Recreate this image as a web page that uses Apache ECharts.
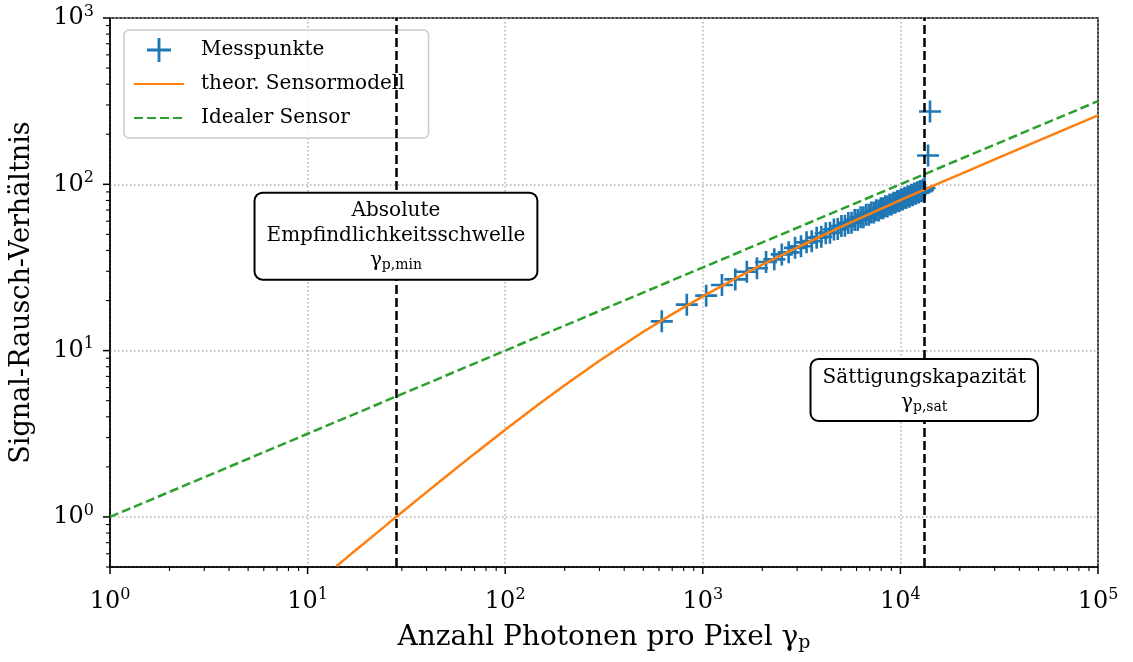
<!DOCTYPE html>
<html><head><meta charset="utf-8">
<script src="https://cdn.jsdelivr.net/npm/echarts@6/dist/echarts.min.js"></script>
<style>html,body{margin:0;padding:0;background:#fff}#c{width:1133px;height:662px}</style>
</head><body><div id="c"></div>
<script>
// Measured points (Messpunkte)
const measX = [620, 830, 1040, 1250, 1460, 1670, 1880, 2090, 2300, 2510, 2720, 2930, 3140, 3350, 3560, 3770, 3980, 4190, 4400, 4610, 4820, 5030, 5240, 5450, 5660, 5870, 6080, 6290, 6500, 6710, 6920, 7130, 7340, 7550, 7760, 7970, 8180, 8390, 8600, 8810, 9020, 9230, 9440, 9650, 9860, 10070, 10280, 10490, 10700, 10910, 11120, 11330, 11540, 11750, 11960, 12170, 12380, 12590, 12800, 13010, 13250, 13800, 14120];
const measY = [15.0, 18.9, 21.4, 24.8, 26.8, 29.8, 31.3, 34.1, 35.4, 37.9, 39.0, 41.5, 42.4, 44.8, 45.5, 47.8, 48.4, 50.8, 51.2, 53.5, 53.9, 56.1, 56.4, 58.6, 58.8, 61.0, 61.1, 63.3, 63.4, 65.5, 65.6, 67.7, 67.7, 69.8, 69.7, 71.8, 71.7, 73.8, 73.6, 75.7, 75.5, 77.6, 77.4, 79.4, 79.2, 81.2, 80.9, 83.0, 82.6, 84.7, 84.3, 86.4, 86.0, 88.0, 87.6, 89.6, 89.2, 91.2, 90.8, 92.6, 95.0, 149, 274];
// Theoretical sensor model curve
const modelX = [14, 16, 18, 20, 25, 28, 30, 40, 50, 70, 100, 150, 200, 300, 500, 700, 1000, 1500, 2000, 3000, 5000, 7000, 10000, 15000, 20000, 30000, 50000, 70000, 100000];
const modelY = [0.5055, 0.577, 0.648, 0.718, 0.893, 0.998, 1.067, 1.41, 1.746, 2.402, 3.345, 4.822, 6.197, 8.699, 12.98, 16.59, 21.21, 27.56, 32.88, 41.69, 55.45, 66.48, 80.28, 99.11, 114.9, 141.3, 183.1, 216.9, 259.5];
// Ideal sensor
const idealX = [1, 100000];
const idealY = [1, 316.2];
// Characteristic values
const gammaMin = 28;
const gammaSat = 13200;
// Tick values
const xMajor = [1, 10, 100, 1000, 10000, 100000];
const yMajor = [1, 10, 100, 1000];
const minorMult = [2, 3, 4, 5, 6, 7, 8, 9];
const xDecades = [1, 10, 100, 1000, 10000];
const yDecades = [0.1, 1, 10, 100];

const xMinor = [];
xDecades.forEach(d => minorMult.forEach(m => xMinor.push(d * m)));
const yMinor = [];
yDecades.forEach(d => minorMult.forEach(m => { const v = +(d * m).toPrecision(6); if (v >= 0.5) yMinor.push(v); }));

const FONT = 'DejaVu Serif';
const Y_MIN = 0.5, Y_MAX = 1000, X_MIN = 1, X_MAX = 100000;

function fmt(v) {
  const e = Math.log10(v);
  if (Math.abs(e - Math.round(e)) > 1e-6) return '';
  return '{b|10}{s|' + Math.round(e) + '}';
}
const tickRich = {
  b: { fontFamily: FONT, fontSize: 24, color: '#000' },
  s: { fontFamily: FONT, fontSize: 16, color: '#000', padding: [0, 0, 13, 0] }
};

function tickSeries(vals, axis, len, lw) {
  return {
    type: 'custom', silent: true, clip: false, z: 10,
    data: vals.map(v => axis === 'x' ? [v, Y_MIN] : [X_MIN, v]),
    renderItem: (params, api) => {
      const p = api.coord([api.value(0), api.value(1)]);
      const shape = axis === 'x'
        ? { x1: p[0], y1: p[1], x2: p[0], y2: p[1] + len }
        : { x1: p[0] - len, y1: p[1], x2: p[0], y2: p[1] };
      return { type: 'line', shape: shape, style: { stroke: '#000', lineWidth: lw } };
    }
  };
}

const plusPath = 'path://M-1.2,-10 L1.2,-10 L1.2,-1.2 L10,-1.2 L10,1.2 L1.2,1.2 L1.2,10 L-1.2,10 L-1.2,1.2 L-10,1.2 L-10,-1.2 L-1.2,-1.2 Z';
const boxRich = {
  t: { fontFamily: FONT, fontSize: 20, color: '#000', lineHeight: 25, align: 'center' },
  g: { fontFamily: FONT, fontSize: 20, color: '#000', lineHeight: 25, align: 'center' },
  u: { fontFamily: FONT, fontSize: 14, color: '#000', lineHeight: 25, align: 'center', padding: [9, 0, 0, 0] }
};

const chart = echarts.init(document.getElementById('c'), null, { renderer: 'canvas' });
chart.setOption({
  animation: false,
  backgroundColor: '#fff',
  grid: { left: 110, right: 35, top: 18, bottom: 95, outerBoundsMode: 'none', containLabel: false,
    show: true, borderColor: '#000', borderWidth: 1.5, backgroundColor: 'transparent' },
  legend: {
    left: 124, top: 30, orient: 'vertical',
    data: [
      { name: 'Messpunkte' },
      { name: 'theor. Sensormodell', itemStyle: { opacity: 0 } },
      { name: 'Idealer Sensor', itemStyle: { opacity: 0 } }
    ],
    itemWidth: 50, itemHeight: 24, itemGap: 10,
    padding: [8, 24, 8, 9],
    backgroundColor: 'rgba(255,255,255,0.8)', borderColor: '#cccccc', borderWidth: 1.5, borderRadius: 5,
    textStyle: { fontFamily: FONT, fontSize: 20, color: '#000', padding: [0, 0, 0, 12], lineHeight: 24 }
  },
  xAxis: {
    type: 'log', logBase: 10, min: X_MIN, max: X_MAX,
    name: 'Anzahl Photonen pro Pixel {g|γ}{u|p}', nameLocation: 'middle', nameGap: 56,
    nameTextStyle: { fontFamily: FONT, fontSize: 28, color: '#000',
      rich: { g: { fontFamily: FONT, fontSize: 28, color: '#000' }, u: { fontFamily: FONT, fontSize: 19, color: '#000', padding: [11, 0, 0, 0] } } },
    axisLine: { show: true, lineStyle: { color: '#000', width: 1.5 } },
    axisTick: { show: false },
    axisLabel: { formatter: fmt, rich: tickRich, margin: 20, color: '#000' },
    splitLine: { show: true, lineStyle: { color: '#b0b0b0', width: 1.5, type: [1.5, 2.5] } },
    minorSplitLine: { show: false }
  },
  yAxis: {
    type: 'log', logBase: 10, min: Y_MIN, max: Y_MAX,
    name: 'Signal-Rausch-Verhältnis', nameLocation: 'middle', nameGap: 75,
    nameTextStyle: { fontFamily: FONT, fontSize: 27, color: '#000' },
    axisLine: { show: true, lineStyle: { color: '#000', width: 1.5 } },
    axisTick: { show: false },
    axisLabel: { formatter: fmt, rich: tickRich, margin: 16, color: '#000' },
    splitLine: { show: true, lineStyle: { color: '#b0b0b0', width: 1.5, type: [1.5, 2.5] } }
  },
  series: [
    {
      name: 'Messpunkte', type: 'scatter', z: 2,
      symbol: plusPath, symbolSize: 22,
      itemStyle: { color: '#1f77b4', opacity: 1 },
      data: measX.map((x, i) => [x, measY[i]])
    },
    {
      name: 'theor. Sensormodell', type: 'line', z: 3, symbol: 'none', showSymbol: false,
      lineStyle: { color: '#ff7f0e', width: 2.5 }, itemStyle: { color: '#ff7f0e' },
      data: modelX.map((x, i) => [x, modelY[i]])
    },
    {
      name: 'Idealer Sensor', type: 'line', z: 4, symbol: 'none', showSymbol: false,
      lineStyle: { color: '#2ca02c', width: 2.5, type: [9, 4] }, itemStyle: { color: '#2ca02c' },
      data: idealX.map((x, i) => [x, idealY[i]]),
      markLine: {
        silent: true, symbol: 'none', animation: false,
        label: { show: false },
        lineStyle: { color: '#000', width: 2.5, type: [9, 4] },
        emphasis: { disabled: true },
        data: [{ xAxis: gammaMin }, { xAxis: gammaSat }]
      },
      markPoint: {
        silent: true, symbol: 'rect', symbolSize: 0, z: 20,
        label: {
          show: true, position: 'inside', align: 'center', verticalAlign: 'middle',
          backgroundColor: '#fff', borderColor: '#000', borderWidth: 2, borderRadius: 7,
          padding: [5, 11, 5, 11], rich: boxRich
        },
        data: [
          { coord: [gammaMin, 48.8], label: { formatter: '{t|Absolute}\n{t|Empfindlichkeitsschwelle}\n{g|γ}{u|p,min}' } },
          { coord: [gammaSat, 5.8], label: { formatter: '{t|Sättigungskapazität}\n{g|γ}{u|p,sat}' } }
        ]
      }
    },
    tickSeries(xMajor, 'x', 7, 1.5),
    tickSeries(xMinor, 'x', 4, 1.1),
    tickSeries(yMajor, 'y', 7, 1.5),
    tickSeries(yMinor, 'y', 4, 1.1)
  ]
});
</script>
</body></html>
